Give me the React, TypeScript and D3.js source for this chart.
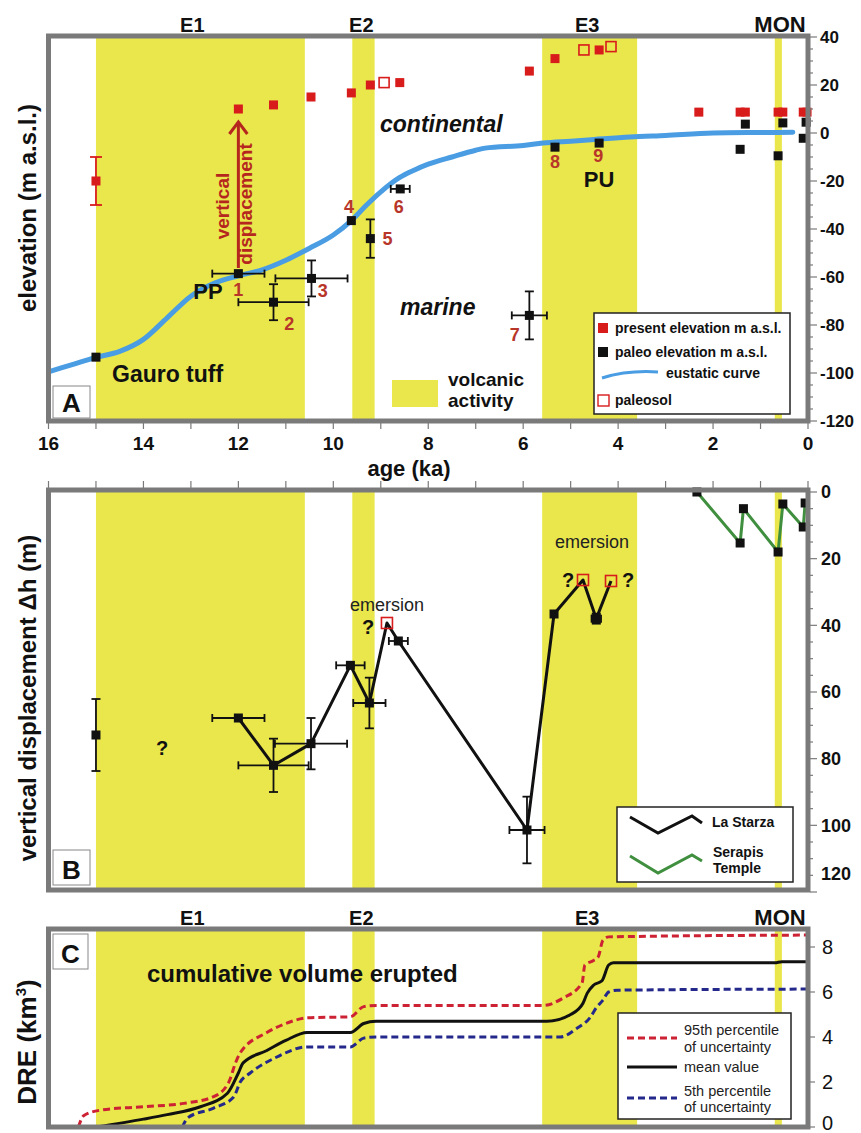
import { useEffect } from 'react';
import * as d3 from 'd3';

const FONT = '"Liberation Sans", Arial, Helvetica, sans-serif';
const YELLOW = '#e9e74c';
const RED = '#d81b1b';
const LABEL_RED = '#b8352a';
const FRAME = '#7a7a7a';
const BLUE = '#4a9de3';
const GREEN = '#3f8f3f';
const P95 = '#cc2233';
const P5 = '#23288a';

// eruptive epochs, ka
const epochs = [
  { name: 'E1', from: 15.0, to: 10.6, label: 12.97 },
  { name: 'E2', from: 9.6, to: 9.13, label: 9.41 },
  { name: 'E3', from: 5.6, to: 3.6, label: 4.65 },
  { name: 'MON', from: 0.7, to: 0.55, label: 0.59 },
];

// panel A: present elevation (m a.s.l.)
const presentElev = [
  { age: 15.0, v: -20, yErr: 10 },
  { age: 12.0, v: 10 }, { age: 11.26, v: 11.7 }, { age: 10.47, v: 15 },
  { age: 9.62, v: 16.7 }, { age: 9.22, v: 20 }, { age: 8.6, v: 21 },
  { age: 5.87, v: 25.8 }, { age: 5.33, v: 31 }, { age: 4.4, v: 34.6 },
  { age: 2.3, v: 8.7 }, { age: 1.43, v: 8.7 }, { age: 1.32, v: 8.7 },
  { age: 0.63, v: 8.7 }, { age: 0.53, v: 8.7 }, { age: 0.1, v: 8.7 }, { age: 0.02, v: 8.7 },
];
const paleosolA = [{ age: 8.93, v: 21 }, { age: 4.72, v: 34.6 }, { age: 4.15, v: 36 }];
// panel A: paleo elevation
const paleoElev = [
  { age: 15.0, v: -93.4 },
  { age: 12.0, v: -58.6, xErr: 0.55 },
  { age: 11.26, v: -70.5, xErr: 0.74, yErr: 7.5 },
  { age: 10.46, v: -60.6, xErr: 0.76, yErr: 7.5 },
  { age: 9.62, v: -36.5 },
  { age: 9.22, v: -44, yErr: 8 },
  { age: 8.59, v: -23.3, xErr: 0.2 },
  { age: 5.87, v: -76, xErr: 0.37, yErr: 10 },
  { age: 5.33, v: -5.9 }, { age: 4.4, v: -4.2 },
  { age: 1.43, v: -6.8 }, { age: 1.32, v: 3.7 },
  { age: 0.63, v: -9.5 }, { age: 0.53, v: 4.2 },
  { age: 0.1, v: -2.2 }, { age: 0.04, v: 4.5 },
];
const eustatic = [
  [16, -99.5], [15.5, -96.5], [15, -93.5], [14.5, -91], [14, -86], [13.5, -77],
  [13, -68], [12.5, -62.5], [12, -59.5], [11.5, -57], [11, -53], [10.5, -48],
  [10, -42.5], [9.62, -36.5], [9.3, -30], [9.0, -24.5], [8.6, -18.5], [8.3, -15.5],
  [8.0, -13], [7.5, -10], [7.0, -7.2], [6.8, -6.3], [6.0, -5.2], [5.58, -4.2],
  [5.0, -3.4], [4.5, -2.7], [3.75, -1.7], [3.0, -1], [2.0, 0], [1.0, 0.2], [0.32, 0.3],
];
const sampleNumbers = ['1', '2', '3', '4', '5', '6', '7', '8', '9'];

// panel B: vertical displacement (m)
const laStarza = [
  { age: 12.0, v: 67.8, xErr: 0.55 },
  { age: 11.26, v: 82, xErr: 0.74, yErr: 8 },
  { age: 10.47, v: 75.5, xErr: 0.76, yErr: 7.7 },
  { age: 9.64, v: 52, xErr: 0.3 },
  { age: 9.24, v: 63.3, xErr: 0.34, yErr: 7.6 },
  { age: 8.87, v: 39.3, open: true },
  { age: 8.63, v: 44.7, xErr: 0.2 },
  { age: 5.92, v: 101.4, xErr: 0.37, yErr: 10 },
  { age: 5.35, v: 36.6 },
  { age: 4.74, v: 26.4, open: true },
  { age: 4.46, v: 38, xErr: 0.1, yErr: 1.5 },
  { age: 4.15, v: 26.7, open: true },
];
const isolatedB = [{ age: 15.0, v: 72.9, yErr: 10.8 }];
const serapis = [
  { age: 2.34, v: 0 }, { age: 1.43, v: 15.3 }, { age: 1.36, v: 5 },
  { age: 0.63, v: 18 }, { age: 0.53, v: 3.6 }, { age: 0.1, v: 10.5 }, { age: 0.06, v: 3.3 },
];

// panel C: cumulative DRE volume (km3)
const meanVol = [
  [15.0, 0], [14, 0.35], [13.5, 0.55], [12.8, 0.9], [12.23, 1.5], [12.0, 2.4], [11.9, 2.85],
  [11.4, 3.4], [11.0, 3.85], [10.55, 4.2], [9.64, 4.2], [9.36, 4.6], [9.1, 4.7], [5.5, 4.7],
  [5.0, 5.0], [4.74, 5.5], [4.65, 5.95], [4.52, 6.3], [4.34, 6.5], [4.2, 7.2], [4.1, 7.3],
  [0.7, 7.3], [0.55, 7.35], [0, 7.35],
];
const p95Vol = [
  [15.37, 0], [15.26, 0.5], [14.9, 0.75], [14, 0.9], [13.15, 1.05], [12.52, 1.35], [12.2, 2.0],
  [12.06, 2.85], [11.96, 3.3], [11.4, 4.2], [11.0, 4.6], [10.55, 4.85], [9.64, 4.9], [9.36, 5.35],
  [9.07, 5.4], [5.58, 5.4], [5.16, 5.73], [4.76, 6.4], [4.7, 7.2], [4.52, 7.4], [4.42, 7.56],
  [4.32, 8.3], [4.2, 8.45], [0, 8.53],
];
const p5Vol = [
  [13.18, 0], [13.07, 0.4], [12.52, 0.84], [12.1, 1.33], [11.96, 2.0], [11.75, 2.4], [11.2, 3.1],
  [10.55, 3.56], [9.64, 3.56], [9.36, 3.95], [9.1, 4.0], [5.22, 4.0], [4.86, 4.4], [4.6, 4.84],
  [4.45, 5.33], [4.32, 5.64], [4.2, 6.0], [4.02, 6.08], [0, 6.13],
];

const ticksA = d3.range(-120, 41, 20);
const ticksB = d3.range(0, 121, 20);
const ticksC = [0, 2, 4, 6, 8];
const ageLabels = d3.range(16, -1, -2);

const x = d3.scaleLinear().domain([16, 0]).range([48.5, 808]);
const yA = d3.scaleLinear().domain([-120, 40]).range([421, 37]);
const yB = d3.scaleLinear().domain([0, 120]).range([492, 892]);
const yC = d3.scaleLinear().domain([0, 8]).range([1127, 947]);

const panels = {
  A: { top: 36, bottom: 421 },
  B: { top: 490, bottom: 890 },
  C: { top: 929, bottom: 1127 },
};

const ErrBar = ({ cx, cy, x0, x1, y0, y1 }: any) => (
  <g stroke="#111" strokeWidth={1.8}>
    {x0 !== undefined && (
      <>
        <line x1={x0} x2={x1} y1={cy} y2={cy} />
        <line x1={x0} x2={x0} y1={cy - 4} y2={cy + 4} />
        <line x1={x1} x2={x1} y1={cy - 4} y2={cy + 4} />
      </>
    )}
    {y0 !== undefined && (
      <>
        <line x1={cx} x2={cx} y1={y0} y2={y1} />
        <line x1={cx - 4.5} x2={cx + 4.5} y1={y0} y2={y0} />
        <line x1={cx - 4.5} x2={cx + 4.5} y1={y1} y2={y1} />
      </>
    )}
  </g>
);

const Sq = ({ cx, cy, fill, stroke, s = 9 }: any) => (
  <rect x={cx - s / 2} y={cy - s / 2} width={s} height={s} fill={fill} stroke={stroke} strokeWidth={stroke ? 1.6 : 0} />
);

const Bands = ({ top, bottom }: any) => (
  <g>
    {epochs.map(e => (
      <rect key={e.name} x={x(e.from)} y={top} width={x(e.to) - x(e.from)} height={bottom - top} fill={YELLOW} />
    ))}
  </g>
);

const Frame = ({ top, bottom }: any) => (
  <rect x={48.5} y={top} width={808 - 48.5} height={bottom - top} fill="none" stroke={FRAME} strokeWidth={5} />
);

const PanelTag = ({ x0, y0, w, h, t }: any) => (
  <g>
    <rect x={x0} y={y0} width={w} height={h} fill="#fff" stroke="#888" strokeWidth={1} />
    <text x={x0 + w / 2} y={y0 + h - 6} textAnchor="middle" fontSize={26} fontWeight="bold" fill="#111">{t}</text>
  </g>
);

const App = () => {
  useEffect(() => {
    document.body.style.margin = '0';
  }, []);

  const line = d3.line<number[]>().x(d => x(d[0])).curve(d3.curveMonotoneX);
  const eustaticPath = line.y(d => yA(d[1]))(eustatic as any);
  const vol = d3.line<number[]>().x(d => x(d[0])).y(d => yC(d[1])).curve(d3.curveMonotoneX);
  const lineB = d3.line<any>().x(d => x(d.age)).y(d => yB(d.v));

  // positions of the sample number labels (age, value)
  const numPos = [
    [12.0, -67.8], [10.93, -81.9], [10.22, -68.5], [9.67, -33.3], [8.86, -46.7],
    [8.62, -33.3], [6.18, -86.7], [5.33, -14.6], [4.42, -12.1],
  ];

  return (
    <svg width={861} height={1133} style={{ display: 'block', fontFamily: FONT }}>
      <rect width={861} height={1133} fill="#fff" />

      {/* ---------- PANEL A ---------- */}
      <Bands {...panels.A} />
      {epochs.map(e => (
        <text key={e.name} x={x(e.label)} y={32} textAnchor="middle" fontSize={e.name === 'MON' ? 22 : 20} fontWeight="bold" fill="#111">{e.name}</text>
      ))}
      <path d={eustaticPath || ''} fill="none" stroke={BLUE} strokeWidth={5} strokeLinecap="round" />

      {/* vertical displacement arrow */}
      <line x1={x(12)} x2={x(12)} y1={268} y2={123} stroke="#b5261e" strokeWidth={3} />
      <polyline points={`${x(12) - 9},${134} ${x(12)},${122} ${x(12) + 9},${134}`} fill="none" stroke="#b5261e" strokeWidth={3} />
      <g transform={`translate(229, 206) rotate(-90)`}>
        <text textAnchor="middle" fontSize={19} fontWeight="bold" fill="#b5261e">vertical</text>
      </g>
      <g transform={`translate(252, 204) rotate(-90)`}>
        <text textAnchor="middle" fontSize={19} fontWeight="bold" fill="#b5261e">displacement</text>
      </g>

      {presentElev.map((d, i) => (
        <g key={'pe' + i}>
          {d.yErr && (
            <g stroke={RED} strokeWidth={1.8}>
              <line x1={x(d.age)} x2={x(d.age)} y1={yA(d.v - d.yErr)} y2={yA(d.v + d.yErr)} />
              <line x1={x(d.age) - 6} x2={x(d.age) + 6} y1={yA(d.v - d.yErr)} y2={yA(d.v - d.yErr)} />
              <line x1={x(d.age) - 6} x2={x(d.age) + 6} y1={yA(d.v + d.yErr)} y2={yA(d.v + d.yErr)} />
            </g>
          )}
          <Sq cx={x(d.age)} cy={yA(d.v)} fill={RED} />
        </g>
      ))}
      {paleosolA.map((d, i) => (
        <Sq key={'ps' + i} cx={x(d.age)} cy={yA(d.v)} fill="none" stroke={RED} s={10} />
      ))}
      {paleoElev.map((d, i) => (
        <g key={'pa' + i}>
          <ErrBar cx={x(d.age)} cy={yA(d.v)}
            x0={d.xErr ? x(d.age + d.xErr) : undefined} x1={d.xErr ? x(d.age - d.xErr) : undefined}
            y0={d.yErr ? yA(d.v + d.yErr) : undefined} y1={d.yErr ? yA(d.v - d.yErr) : undefined} />
          <Sq cx={x(d.age)} cy={yA(d.v)} fill="#111" />
        </g>
      ))}
      {sampleNumbers.map((n, i) => (
        <text key={'n' + n} x={x(numPos[i][0])} y={yA(numPos[i][1])} textAnchor="middle" fontSize={18} fontWeight="bold" fill={LABEL_RED}>{n}</text>
      ))}
      <text x={208} y={299} textAnchor="middle" fontSize={22} fontWeight="bold" fill="#111">PP</text>
      <text x={599} y={187} textAnchor="middle" fontSize={22} fontWeight="bold" fill="#111">PU</text>
      <text x={112} y={382} fontSize={23} fontWeight="bold" fill="#111">Gauro tuff</text>
      <text x={380} y={132} fontSize={23} fontWeight="bold" fontStyle="italic" fill="#111">continental</text>
      <text x={400} y={315} fontSize={23} fontWeight="bold" fontStyle="italic" fill="#111">marine</text>

      <rect x={392} y={380} width={46} height={27} fill={YELLOW} />
      <text x={448} y={386} fontSize={19} fontWeight="bold" fill="#111">volcanic</text>
      <text x={448} y={407} fontSize={19} fontWeight="bold" fill="#111">activity</text>

      {/* legend A */}
      <g>
        <rect x={594} y={313} width={196} height={101} fill="#fff" stroke="#222" strokeWidth={1.5} />
        <rect x={598} y={323} width={10} height={10} fill={RED} />
        <text x={615} y={333} fontSize={14} fontWeight="bold" fill="#111">present elevation m a.s.l.</text>
        <rect x={598} y={347} width={10} height={10} fill="#111" />
        <text x={615} y={357} fontSize={14} fontWeight="bold" fill="#111">paleo elevation m a.s.l.</text>
        <path d="M602,378 Q628,370 658,372" fill="none" stroke={BLUE} strokeWidth={3} />
        <text x={666} y={378} fontSize={14} fontWeight="bold" fill="#111">eustatic curve</text>
        <rect x={598} y={395} width={11} height={11} fill="none" stroke={RED} strokeWidth={1.4} />
        <text x={615} y={405} fontSize={14} fontWeight="bold" fill="#111">paleosol</text>
      </g>

      <PanelTag x0={53} y0={386} w={37} h={32} t="A" />
      <Frame {...panels.A} />
      {d3.range(-120, 41, 5).map(t => (
        <line key={'ta' + t} x1={810} x2={t % 20 === 0 ? 817 : 813} y1={yA(t)} y2={yA(t)} stroke={FRAME} strokeWidth={1.2} />
      ))}
      {ticksA.map(t => (
        <text key={'la' + t} x={820} y={yA(t)} dy="0.35em" fontSize={17} fontWeight="bold" fill="#111">{t}</text>
      ))}
      {d3.range(16, -1, -1).map(t => (
        <line key={'bx' + t} x1={x(t)} x2={x(t)} y1={423} y2={429} stroke={FRAME} strokeWidth={1.2} />
      ))}

      {/* age axis labels */}
      {ageLabels.map(t => (
        <text key={'ag' + t} x={x(t)} y={450} textAnchor="middle" fontSize={19} fontWeight="bold" fill="#111">{t}</text>
      ))}
      <text x={409} y={476} textAnchor="middle" fontSize={22} fontWeight="bold" fill="#111">age (ka)</text>

      {/* ---------- PANEL B ---------- */}
      <Bands {...panels.B} />
      <path d={lineB(laStarza) || ''} fill="none" stroke="#111" strokeWidth={3} strokeLinejoin="round" />
      <path d={lineB(serapis) || ''} fill="none" stroke={GREEN} strokeWidth={3} strokeLinejoin="round" />
      {[...isolatedB, ...laStarza.filter(d => !d.open)].map((d: any, i) => (
        <g key={'lb' + i}>
          <ErrBar cx={x(d.age)} cy={yB(d.v)}
            x0={d.xErr ? x(d.age + d.xErr) : undefined} x1={d.xErr ? x(d.age - d.xErr) : undefined}
            y0={d.yErr ? yB(d.v - d.yErr) : undefined} y1={d.yErr ? yB(d.v + d.yErr) : undefined} />
          <Sq cx={x(d.age)} cy={yB(d.v)} fill="#111" />
        </g>
      ))}
      {laStarza.filter(d => d.open).map((d, i) => (
        <Sq key={'ob' + i} cx={x(d.age)} cy={yB(d.v)} fill="none" stroke={RED} s={11} />
      ))}
      {serapis.map((d, i) => (
        <Sq key={'sb' + i} cx={x(d.age)} cy={yB(d.v)} fill="#111" />
      ))}
      <text x={387} y={611} textAnchor="middle" fontSize={18} fill="#222">emersion</text>
      <text x={592} y={548} textAnchor="middle" fontSize={18} fill="#222">emersion</text>
      <text x={368} y={634} textAnchor="middle" fontSize={20} fontWeight="bold" fill="#111">?</text>
      <text x={568} y={587} textAnchor="middle" fontSize={20} fontWeight="bold" fill="#111">?</text>
      <text x={628} y={587} textAnchor="middle" fontSize={20} fontWeight="bold" fill="#111">?</text>
      <text x={162} y={755} textAnchor="middle" fontSize={20} fontWeight="bold" fill="#111">?</text>

      {/* legend B */}
      <g>
        <rect x={617} y={807} width={176} height={75} fill="#fff" stroke="#222" strokeWidth={1.5} />
        <polyline points="630,817 658,833 692,816 702,823" fill="none" stroke="#111" strokeWidth={3} />
        <text x={712} y={827} fontSize={14} fontWeight="bold" fill="#111">La Starza</text>
        <polyline points="630,856 658,873 692,855 702,861" fill="none" stroke={GREEN} strokeWidth={3} />
        <text x={713} y={857} fontSize={14} fontWeight="bold" fill="#111">Serapis</text>
        <text x={713} y={873} fontSize={14} fontWeight="bold" fill="#111">Temple</text>
      </g>

      <PanelTag x0={53} y0={850} w={37} h={35} t="B" />
      <Frame {...panels.B} />
      {d3.range(16, -1, -1).map(t => (
        <line key={'tx' + t} x1={x(t)} x2={x(t)} y1={481} y2={488} stroke={FRAME} strokeWidth={1.2} />
      ))}
      {d3.range(0, 121, 5).map(t => (
        <line key={'tb' + t} x1={810} x2={t % 20 === 0 ? 817 : 813} y1={yB(t)} y2={yB(t)} stroke={FRAME} strokeWidth={1.2} />
      ))}
      {ticksB.map(t => (
        <text key={'lbb' + t} x={821} y={yB(t) - (t === 120 ? 18 : 0)} dy="0.35em" fontSize={18} fontWeight="bold" fill="#111">{t}</text>
      ))}

      {/* ---------- PANEL C ---------- */}
      <Bands {...panels.C} />
      {epochs.map(e => (
        <text key={'c' + e.name} x={x(e.label)} y={925} textAnchor="middle" fontSize={e.name === 'MON' ? 22 : 20} fontWeight="bold" fill="#111">{e.name}</text>
      ))}
      <text x={147} y={982} fontSize={24} fontWeight="bold" fill="#111">cumulative volume erupted</text>
      <path d={vol(p95Vol as any) || ''} fill="none" stroke={P95} strokeWidth={3} strokeDasharray="7,4" />
      <path d={vol(p5Vol as any) || ''} fill="none" stroke={P5} strokeWidth={3} strokeDasharray="7,4" />
      <path d={vol(meanVol as any) || ''} fill="none" stroke="#111" strokeWidth={3} />

      {/* legend C */}
      <g>
        <rect x={618} y={1013} width={173} height={106} fill="#fff" stroke="#222" strokeWidth={1.5} />
        <line x1={627} x2={677} y1={1038} y2={1038} stroke={P95} strokeWidth={3} strokeDasharray="7,4" />
        <text x={684} y={1035} fontSize={14.5} fill="#222">95th percentile</text>
        <text x={684} y={1052} fontSize={14.5} fill="#222">of uncertainty</text>
        <line x1={627} x2={677} y1={1067} y2={1067} stroke="#111" strokeWidth={3} />
        <text x={684} y={1072} fontSize={14.5} fill="#222">mean value</text>
        <line x1={627} x2={677} y1={1098} y2={1098} stroke={P5} strokeWidth={3} strokeDasharray="7,4" />
        <text x={684} y={1096} fontSize={14.5} fill="#222">5th percentile</text>
        <text x={684} y={1112} fontSize={14.5} fill="#222">of uncertainty</text>
      </g>

      <PanelTag x0={53} y0={934} w={35} h={35} t="C" />
      <Frame {...panels.C} />
      {ticksC.map(t => (
        <g key={'tc' + t}>
          <line x1={810} x2={815} y1={yC(t)} y2={yC(t)} stroke={FRAME} strokeWidth={1.2} />
          <text x={822} y={yC(t) - (t === 0 ? 4 : 0)} dy="0.35em" fontSize={20} fill="#111">{t}</text>
        </g>
      ))}

      {/* y axis titles */}
      <text transform="translate(36, 208) rotate(-90)" textAnchor="middle" fontSize={24} fontWeight="bold" fill="#111">elevation (m a.s.l.)</text>
      <text transform="translate(36, 698) rotate(-90)" textAnchor="middle" fontSize={24} fontWeight="bold" fill="#111">vertical displacement Δh (m)</text>
      <text transform="translate(36, 1042) rotate(-90)" textAnchor="middle" fontSize={26} fontWeight="bold" fill="#111">
        DRE (km<tspan fontSize={15} dy={-10}>3</tspan><tspan dy={10}>)</tspan>
      </text>
    </svg>
  );
};

export default App;
